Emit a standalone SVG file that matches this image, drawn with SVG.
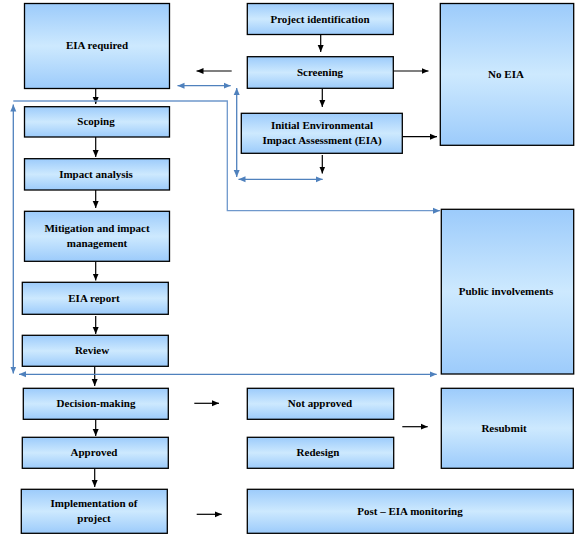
<svg xmlns="http://www.w3.org/2000/svg" width="582" height="539" viewBox="0 0 582 539">
<defs>
<linearGradient id="g" x1="0" y1="0" x2="0" y2="1">
<stop offset="0" stop-color="#9ccbfb"/>
<stop offset="0.5" stop-color="#cde9fe"/>
<stop offset="1" stop-color="#9ccbfb"/>
</linearGradient>
<marker id="ab" markerWidth="8" markerHeight="8" refX="7" refY="4" orient="auto" markerUnits="userSpaceOnUse">
<path d="M0,1 L7,4 L0,7 z" fill="#000"/>
</marker>
<marker id="bb" markerWidth="8" markerHeight="8" refX="7" refY="4" orient="auto-start-reverse" markerUnits="userSpaceOnUse">
<path d="M0,1 L7,4 L0,7 z" fill="#4f81bd"/>
</marker>
</defs>
<style>
.n rect{fill:url(#g);stroke:#000;stroke-width:1.3}
.n text{font-weight:bold;font-size:11px;fill:#000;text-anchor:middle}
.k{stroke:#000;stroke-width:1.2;fill:none;marker-end:url(#ab)}
.bd{stroke:#4f81bd;stroke-width:1.3;fill:none;marker-start:url(#bb);marker-end:url(#bb)}
.bl{stroke:#6f98cc;stroke-width:1.3;fill:none;marker-end:url(#bb)}
</style>
<rect width="582" height="539" fill="#fff"/>
<g id="connectors">
<path class="k" d="M320.7,34 V52"/>
<path class="k" d="M231.7,71 H196.5"/>
<path class="k" d="M393.3,71 H428.5"/>
<path class="k" d="M322.3,88.5 V107"/>
<path class="k" d="M402.3,136.7 H437"/>
<path class="k" d="M322.3,155 V173.5"/>
<path class="k" d="M95.7,89 V104"/>
<path class="k" d="M95.7,137 V157"/>
<path class="k" d="M95.7,190 V208"/>
<path class="k" d="M95.7,261.5 V280.5"/>
<path class="k" d="M95.7,316 V334"/>
<path class="k" d="M94.7,366.5 V386"/>
<path class="k" d="M95.7,419.5 V436"/>
<path class="k" d="M94.7,468.5 V487"/>
<path class="k" d="M194.3,403.3 H219"/>
<path class="k" d="M402.3,426.7 H427.7"/>
<path class="k" d="M196.7,514.3 H221.7"/>
<path class="bd" d="M177.5,85.7 H230.7"/>
<path class="bd" d="M236.7,88 V177"/>
<path class="bd" d="M238.5,179.3 H322.7"/>
<path class="bl" d="M13.3,101 H227.3 V210.7 H440"/>
<path class="bd" d="M13.3,104.5 V373.5"/>
<path class="bd" d="M19,374.3 H436.7"/>
</g>
<g font-family="'Liberation Serif', 'Times New Roman', serif">
<g id="eia-required" class="n"><rect x="24.5" y="3.5" width="145" height="85"/><text x="97" y="49">EIA required</text></g>
<g id="project-identification" class="n"><rect x="247.3" y="3.5" width="146" height="31"/><text x="320" y="23">Project identification</text></g>
<g id="screening" class="n"><rect x="247.3" y="56.7" width="146" height="31.6"/><text x="320" y="76">Screening</text></g>
<g id="iea" class="n"><rect x="241.3" y="113.3" width="161" height="40"/><text x="322" y="129">Initial Environmental</text><text x="322" y="144">Impact Assessment (EIA)</text></g>
<g id="no-eia" class="n"><rect x="440.3" y="3.5" width="133.4" height="141.8"/><text x="506" y="78">No EIA</text></g>
<g id="scoping" class="n"><rect x="24.5" y="106.7" width="145" height="30.3"/><text x="96" y="125">Scoping</text></g>
<g id="impact-analysis" class="n"><rect x="24.5" y="158.7" width="145" height="31.3"/><text x="96" y="178">Impact analysis</text></g>
<g id="mitigation" class="n"><rect x="24.5" y="211.3" width="145" height="50"/><text x="97" y="232">Mitigation and impact</text><text x="97" y="247">management</text></g>
<g id="eia-report" class="n"><rect x="22.3" y="282.3" width="146" height="32"/><text x="94" y="302">EIA report</text></g>
<g id="review" class="n"><rect x="22.3" y="335.3" width="146" height="31"/><text x="92" y="354">Review</text></g>
<g id="public-involvements" class="n"><rect x="441.3" y="209.3" width="132.4" height="164.7"/><text x="506" y="295">Public involvements</text></g>
<g id="decision-making" class="n"><rect x="23.3" y="388.3" width="145" height="31"/><text x="96" y="407">Decision-making</text></g>
<g id="approved" class="n"><rect x="22.3" y="437.3" width="146" height="31"/><text x="94" y="456">Approved</text></g>
<g id="implementation" class="n"><rect x="21.3" y="489.3" width="146" height="44"/><text x="94" y="507">Implementation of</text><text x="94" y="522">project</text></g>
<g id="not-approved" class="n"><rect x="247.3" y="388.3" width="146.4" height="31"/><text x="320" y="407">Not approved</text></g>
<g id="redesign" class="n"><rect x="247.3" y="437.3" width="146.4" height="31"/><text x="318" y="456">Redesign</text></g>
<g id="resubmit" class="n"><rect x="441.3" y="388.3" width="132" height="80"/><text x="504" y="432">Resubmit</text></g>
<g id="post-eia" class="n"><rect x="247.3" y="489.3" width="326" height="44"/><text x="410" y="515">Post – EIA monitoring</text></g>
</g>
</svg>
